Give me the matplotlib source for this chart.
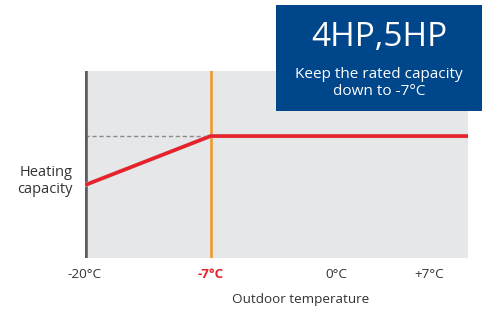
import matplotlib.pyplot as plt
from matplotlib.patches import Rectangle

plt.rcParams['font.family'] = ['Open Sans', 'DejaVu Sans']

# x in "tick units": -20C, -7C, 0C, +7C positions on the drawn axis
tick_pos = [0, 1, 2, 2.74]
tick_labels = ['-20°C', '-7°C', '0°C', '+7°C']
cap_x = [0, 1, 3.05]
cap_y = [0.39, 0.652, 0.652]
limit_x = 1
rated = 0.652

W, H = 483, 311
fig = plt.figure(figsize=(W / 100, H / 100), dpi=100)
ax = fig.add_axes([85 / W, (H - 258) / H, (468 - 85) / W, (258 - 71) / H])
ax.set_facecolor('#e6e7e8')
ax.set_xlim(0, 3.05)
ax.set_ylim(0, 1)
for s in ax.spines.values():
    s.set_visible(False)

ax.axvline(0.004, color='#5d5d5f', lw=2.6, zorder=4)
ax.axvline(limit_x, color='#f7941d', lw=1.8, zorder=3)
ax.plot([0, limit_x], [rated, rated], color='#8a8a8a', lw=1, ls=(0, (3, 2)), zorder=2)
ax.plot(cap_x, cap_y, color='#c8c8c8', lw=3, zorder=4)
ax.plot(cap_x, cap_y, color='#e8212a', lw=2.6, zorder=5, solid_capstyle='butt')

ax.set_yticks([])
ax.set_xticks(tick_pos)
ax.set_xticklabels(tick_labels, fontsize=9.7, color='#333333')
ax.tick_params(axis='x', length=0, pad=7)
lab = ax.get_xticklabels()[1]
lab.set_color('#e8212a')
lab.set_fontweight('bold')

fig.text(301 / W, 1 - 300 / H, 'Outdoor temperature', ha='center', va='center',
         fontsize=9.7, color='#333333')
fig.text(73 / W, 1 - 181 / H, 'Heating\ncapacity', ha='right', va='center',
         fontsize=10.5, color='#333333', linespacing=1.1)

box = Rectangle((276 / W, 1 - 111 / H), (482 - 276) / W, (111 - 5) / H,
                transform=fig.transFigure, facecolor='#00468b', edgecolor='none', zorder=10)
fig.patches.append(box)
fig.text(379 / W, 1 - 37 / H, '4HP,5HP', ha='center', va='center', fontsize=24,
         color='white', zorder=11)
fig.text(379 / W, 1 - 83 / H, 'Keep the rated capacity\ndown to -7°C', ha='center',
         va='center', fontsize=11, color='white', zorder=11, linespacing=1.25)

fig.savefig('out.png', dpi=100)
